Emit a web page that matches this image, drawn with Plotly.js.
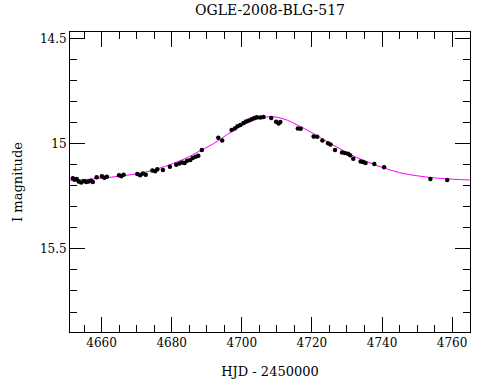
<!DOCTYPE html>
<html>
<head>
<meta charset="utf-8">
<script src="https://cdn.plot.ly/plotly-3.0.1.min.js"></script>
<style>html,body{margin:0;padding:0;background:#fff;}#chart{width:490px;height:380px;}</style>
</head>
<body>
<div id="chart"></div>
<script>
// Observed photometry (HJD - 2450000, I magnitude)
const obsHJD = [4651.8,4652.3,4652.9,4653.5,4654.2,4655.0,4655.6,4656.3,4657.0,4657.5,
  4658.6,4660.1,4660.8,4661.5,4665.0,4665.6,4666.3,4670.2,4671.0,4671.8,
  4672.6,4674.5,4675.3,4675.9,4677.5,4679.5,4681.3,4682.2,4683.0,4683.7,
  4684.4,4685.3,4686.0,4686.8,4687.6,4688.6,4693.3,4694.4,4697.1,4698.0,
  4698.8,4699.6,4700.5,4701.2,4702.0,4702.8,4703.6,4704.3,4705.3,4706.2,
  4708.4,4709.8,4710.5,4711.0,4716.0,4716.8,4720.5,4721.5,4723.0,4724.6,
  4725.3,4726.6,4728.6,4729.4,4730.3,4730.9,4731.8,4733.9,4734.6,4735.3,
  4737.8,4740.6,4753.8,4758.6];
const obsMag = [15.165,15.172,15.168,15.180,15.185,15.178,15.183,15.180,15.176,15.182,
  15.160,15.155,15.162,15.158,15.150,15.155,15.148,15.145,15.150,15.142,
  15.148,15.128,15.132,15.122,15.125,15.110,15.100,15.095,15.090,15.092,
  15.082,15.078,15.068,15.062,15.058,15.030,14.972,14.985,14.935,14.928,
  14.918,14.912,14.902,14.895,14.890,14.884,14.878,14.875,14.876,14.874,
  14.878,14.896,14.905,14.898,14.928,14.930,14.966,14.968,14.985,14.998,
  15.004,15.030,15.042,15.045,15.048,15.055,15.072,15.085,15.088,15.092,
  15.097,15.112,15.168,15.173];

// Model light curve
const modelHJD = [4651,4656,4661,4666,4671,4676,4680,4684,4688,4692,4696,4700,4703,4706,4708,
  4710,4713,4716,4720,4724,4728,4732,4736,4740,4745,4750,4755,4760,4765];
const modelMag = [15.175,15.170,15.163,15.153,15.141,15.120,15.097,15.070,15.035,15.000,14.955,
  14.915,14.892,14.877,14.872,14.875,14.889,14.913,14.948,14.988,15.025,15.060,15.088,
  15.113,15.138,15.153,15.163,15.169,15.173];

const titleText = "OGLE-2008-BLG-517";
const xTitle = "HJD - 2450000";
const yTitle = "I magnitude";

const FONT = "DejaVu Serif";

const traces = [
  {x: modelHJD, y: modelMag, mode: "lines", type: "scatter",
   line: {color: "#ff00ff", width: 1, shape: "spline", smoothing: 1}, hoverinfo: "skip"},
  {x: obsHJD, y: obsMag, mode: "markers", type: "scatter",
   marker: {color: "#000000", size: 4.5, symbol: "circle"}}
];

const axisCommon = {
  showline: true, linecolor: "#000", linewidth: 1, mirror: "allticks",
  ticks: "inside", ticklen: 15, tickwidth: 1, tickcolor: "#000",
  showgrid: false, zeroline: false,
  tickfont: {family: FONT, size: 12, color: "#000"},
  minor: {ticks: "inside", ticklen: 7, tickwidth: 1, tickcolor: "#000", showgrid: false}
};

const layout = {
  width: 490, height: 380,
  margin: {l: 70, r: 20, t: 32, b: 48},
  paper_bgcolor: "#fff", plot_bgcolor: "#fff",
  showlegend: false,
  font: {family: FONT, color: "#000"},
  title: {text: titleText, font: {family: FONT, size: 14, color: "#000"},
          x: 0.5, xref: "paper", y: 1 - 10/380, yref: "container", yanchor: "middle"},
  xaxis: Object.assign({}, axisCommon, {
    range: [4651, 4765.1], tick0: 4660, dtick: 20,
    minor: Object.assign({}, axisCommon.minor, {dtick: 5}),
    title: {text: xTitle, font: {family: FONT, size: 13, color: "#000"}, standoff: 17}
  }),
  yaxis: Object.assign({}, axisCommon, {
    range: [15.895, 14.47], tick0: 14.5, dtick: 0.5,
    minor: Object.assign({}, axisCommon.minor, {dtick: 0.1}),
    title: {text: yTitle, font: {family: FONT, size: 13, color: "#000"}, standoff: 14}
  })
};

Plotly.newPlot("chart", traces, layout, {staticPlot: true, displayModeBar: false});
</script>
</body>
</html>
